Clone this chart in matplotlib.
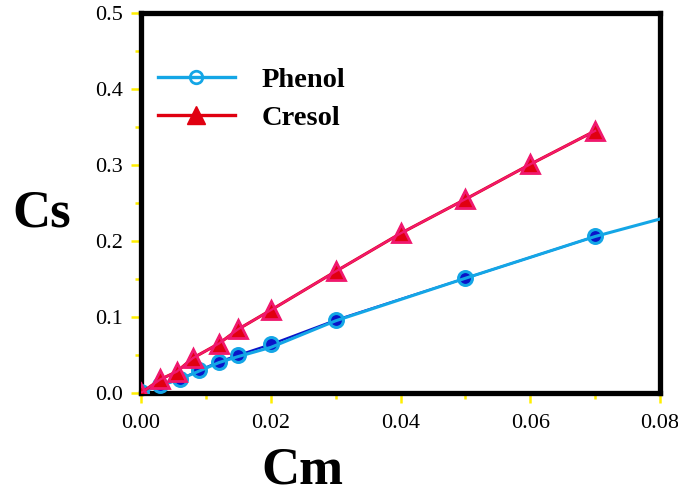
import numpy as np
import matplotlib
matplotlib.use("Agg")
import matplotlib.pyplot as plt
from matplotlib.ticker import MultipleLocator, FormatStrFormatter

plt.rcParams['font.family'] = ['Liberation Serif', 'DejaVu Serif']

# Phenol data (dark blue) and its light blue line
phenol_x = [0.0, 0.003, 0.006, 0.009, 0.012, 0.015, 0.02, 0.03, 0.05, 0.07]
phenol_y = [0.001, 0.010, 0.018, 0.030, 0.041, 0.050, 0.064, 0.096, 0.151, 0.206]
phenol_fit_x = [0.0, 0.003, 0.006, 0.009, 0.012, 0.015, 0.02, 0.03, 0.05, 0.07, 0.08]
phenol_fit_y = [0.001, 0.010, 0.018, 0.029, 0.040, 0.048, 0.060, 0.095, 0.151, 0.206, 0.229]

# Cresol data
cresol_x = [0.0, 0.003, 0.0055, 0.008, 0.012, 0.015, 0.02, 0.03, 0.04, 0.05, 0.06, 0.07]
cresol_y = [0.0, 0.018, 0.028, 0.046, 0.065, 0.084, 0.109, 0.160, 0.210, 0.255, 0.301, 0.345]

fig = plt.figure(figsize=(6.78, 4.94), dpi=100)
ax = fig.add_axes([0.208, 0.2045, 0.7655, 0.769])

light_blue = '#14a6e6'
dark_blue = '#0a14c8'
red = '#e00010'
pink = '#f0186e'

# phenol: dark series underneath, light line + hollow circles on top
ax.plot(phenol_x, phenol_y, '-', color=dark_blue, lw=1.6,
        marker='o', ms=10, mfc=dark_blue, mec=dark_blue, zorder=3)
ax.plot(phenol_fit_x, phenol_fit_y, '-', color=light_blue, lw=2.2, zorder=4)
ax.plot(phenol_x, phenol_y, 'none', marker='o', ms=10, mfc='none',
        mec=light_blue, mew=2.2, zorder=5)

# cresol: red series plus pink edges/line
ax.plot(cresol_x, cresol_y, '-', color=red, lw=2.2,
        marker='^', ms=13, mfc=red, mec=red, zorder=6)
ax.plot(cresol_x, cresol_y, '-', color=pink, lw=1.6,
        marker='^', ms=13, mfc='none', mec=pink, mew=2.0, zorder=7)

# legend handles
h1, = ax.plot([], [], '-', color=light_blue, lw=2.4, marker='o', ms=9,
              mfc='none', mec=light_blue, mew=2, label='Phenol')
h2, = ax.plot([], [], '-', color=red, lw=2.4, marker='^', ms=13,
              mfc=red, mec=red, label='Cresol')
ax.legend(handles=[h1, h2], loc='upper left', frameon=False, numpoints=1,
          handlelength=2.7, handletextpad=0.95, labelspacing=0.42,
          bbox_to_anchor=(17 / 519, 0.857), borderaxespad=0, borderpad=0,
          prop={'family': 'Liberation Serif', 'weight': 'bold', 'size': 20.5})

ax.set_xlim(0, 0.08)
ax.set_ylim(0, 0.5)
ax.xaxis.set_major_locator(MultipleLocator(0.02))
ax.xaxis.set_minor_locator(MultipleLocator(0.01))
ax.yaxis.set_major_locator(MultipleLocator(0.1))
ax.yaxis.set_minor_locator(MultipleLocator(0.05))
ax.xaxis.set_major_formatter(FormatStrFormatter('%.2f'))
ax.yaxis.set_major_formatter(FormatStrFormatter('%.1f'))

ax.tick_params(which='major', direction='out', length=7, width=1.8,
               color='#ffee00', labelsize=16, pad=6)
ax.tick_params(which='minor', direction='out', length=4, width=1.8,
               color='#ffee00')
ax.tick_params(axis='x', which='major', pad=8)

for s in ax.spines.values():
    s.set_linewidth(3.8)
    s.set_color('black')

fig.text(42 / 678, 1 - 213 / 494, 'Cs', fontsize=38, fontweight='bold',
         ha='center', va='center')
fig.text(302 / 678, 1 - 470 / 494, 'Cm', fontsize=38, fontweight='bold',
         ha='center', va='center')

fig.savefig('out.png', dpi=100)
